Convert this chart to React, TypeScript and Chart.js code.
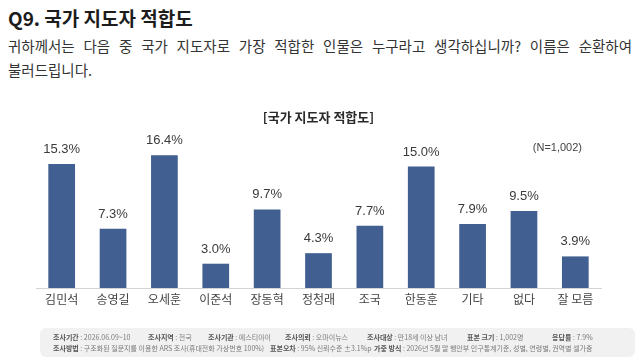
import React, { useEffect, useRef } from "react";
import { Chart, registerables } from "chart.js";

Chart.register(...registerables);

const categories = ["김민석", "송영길", "오세훈", "이준석", "장동혁", "정청래", "조국", "한동훈", "기타", "없다", "잘 모름"];
const shares = [15.3, 7.3, 16.4, 3.0, 9.7, 4.3, 7.7, 15.0, 7.9, 9.5, 3.9];
const chartTitle = "[국가 지도자 적합도]";
const sampleNote = "(N=1,002)";

const footerLine1: [string, string, number][] = [
  ["조사기간", "2026.06.09~10", 13],
  ["조사지역", "전국", 108],
  ["조사기관", "에스티아이", 168],
  ["조사의뢰", "오마이뉴스", 245],
  ["조사대상", "만18세 이상 남녀", 327],
  ["표본 크기", "1,002명", 427],
  ["응답률", "7.9%", 512],
];
const footerLine2: [string, string, number][] = [
  ["조사방법", "구조화된 질문지를 이용한 ARS 조사(휴대전화 가상번호 100%)", 13],
  ["표본오차", "95% 신뢰수준 ±3.1%p", 230],
  ["가중 방식", "2026년 5월 말 행안부 인구통계기준, 성별, 연령별, 권역별 셀가중", 334],
];

const KR = '"Noto Sans CJK KR", "Noto Sans", sans-serif';
const NUM = '"Liberation Sans", "Noto Sans CJK KR", sans-serif';

const valueLabels = {
  id: "valueLabels",
  afterDatasetsDraw(chart: any) {
    const { ctx, chartArea } = chart;
    const meta = chart.getDatasetMeta(0);
    ctx.save();
    ctx.fillStyle = "#3a3a3a";
    ctx.font = `13px ${NUM}`;
    ctx.textAlign = "center";
    ctx.textBaseline = "alphabetic";
    meta.data.forEach((bar: any, i: number) => {
      ctx.fillText(shares[i].toFixed(1) + "%", bar.x, bar.y - 11);
    });
    ctx.font = `11px ${NUM}`;
    ctx.fillStyle = "#444";
    ctx.textAlign = "right";
    ctx.fillText(sampleNote, chartArea.right - 19, 56);
    ctx.restore();
  },
};

function SurveyChart() {
  const ref = useRef<HTMLCanvasElement | null>(null);
  useEffect(() => {
    if (!ref.current) return;
    const chart = new Chart(ref.current, {
      type: "bar",
      data: {
        labels: categories,
        datasets: [
          {
            data: shares,
            backgroundColor: "#415f90",
            barPercentage: 0.52,
            categoryPercentage: 1,
          },
        ],
      },
      options: {
        animation: false,
        responsive: true,
        maintainAspectRatio: false,
        devicePixelRatio: 1,
        layout: { padding: { left: 36, right: 39, top: 0, bottom: 10 } },
        plugins: {
          legend: { display: false },
          tooltip: { enabled: false },
          title: {
            display: true,
            text: chartTitle,
            color: "#2a2a2a",
            font: { family: KR, size: 13, weight: "bold", lineHeight: 1.2 },
            padding: { top: 14, bottom: 1.4 },
          },
        },
        scales: {
          x: {
            grid: { display: false, drawTicks: false },
            border: { display: true, color: "#d4d4d4", width: 1 },
            ticks: {
              color: "#444",
              padding: 4,
              font: { family: KR, size: 12, lineHeight: 1.25 },
              maxRotation: 0,
              autoSkip: false,
            },
          },
          y: { display: false, min: 0, max: 20 },
        },
      },
      plugins: [valueLabels],
    });
    return () => chart.destroy();
  }, []);
  return (
    <div style={{ position: "absolute", left: 0, top: 95, width: 640, height: 226 }}>
      <canvas ref={ref} />
    </div>
  );
}

function FooterRow({ items, top }: { items: [string, string, number][]; top: number }) {
  return (
    <>
      {items.map(([k, v, x]) => (
        <span
          key={k}
          style={{ position: "absolute", left: x, top, whiteSpace: "nowrap", fontSize: 7, lineHeight: "8px", color: "#7a7a7a" }}
        >
          <b style={{ color: "#555" }}>{k}</b> : {v}
        </span>
      ))}
    </>
  );
}

export default function App() {
  useEffect(() => {
    document.body.style.margin = "0";
    document.body.style.background = "#fff";
  }, []);
  return (
    <div style={{ position: "relative", width: 640, height: 360, overflow: "hidden", fontFamily: KR, background: "#fff" }}>
      <div style={{ position: "absolute", left: 8, top: 5, fontSize: 19, lineHeight: "26px", fontWeight: 700, color: "#1c1c1c", whiteSpace: "nowrap" }}>
        Q9. 국가 지도자 적합도
      </div>
      <div style={{ position: "absolute", left: 8, top: 34, width: 624, fontSize: 14.5, lineHeight: "24px", color: "#333", textAlign: "justify", textAlignLast: "justify", whiteSpace: "nowrap" }}>
        귀하께서는 다음 중 국가 지도자로 가장 적합한 인물은 누구라고 생각하십니까? 이름은 순환하여
      </div>
      <div style={{ position: "absolute", left: 8, top: 58, fontSize: 14.5, lineHeight: "24px", color: "#333", whiteSpace: "nowrap" }}>
        불러드립니다.
      </div>
      <SurveyChart />
      <div style={{ position: "absolute", left: 40, top: 328, width: 595, height: 29, background: "#f1f1f1", borderRadius: 6, filter: "blur(0.3px)" }}>
        <FooterRow items={footerLine1} top={5} />
        <FooterRow items={footerLine2} top={16} />
      </div>
    </div>
  );
}
